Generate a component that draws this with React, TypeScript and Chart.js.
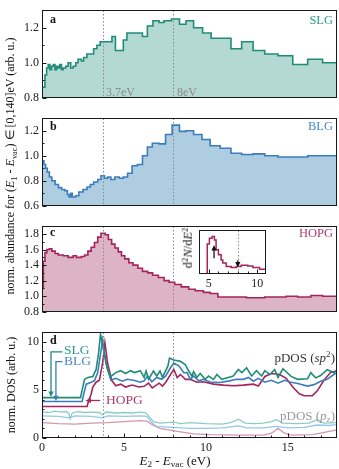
import React, { useEffect, useRef } from 'react';
import { Chart, registerables } from 'chart.js';
Chart.register(...registerables);

const FONT = '"Liberation Serif", "Times New Roman", serif';
const W = 339;
const H = 469;

// ---------- panel a : SLG histogram ----------
const slgEdges = [0, 0.18, 0.28, 0.38, 0.48, 0.58, 0.69, 0.79, 0.89, 0.99, 1.09, 1.19, 1.29, 1.45, 1.59, 1.75, 1.9, 2.06, 2.2, 2.4, 2.54, 2.74, 2.94, 3.15, 3.35, 3.55, 3.81, 4.07, 4.27, 4.48, 4.72, 4.96, 5.18, 6.13, 6.43, 6.77, 7.14, 7.44, 7.9, 8.39, 8.79, 9.25, 9.8, 10.32, 11.53, 12.18, 12.88, 13.59, 14.4, 15.3, 16.21, 17.12, 18];
const slgValues = [0.86, 0.93, 0.97, 0.99, 0.96, 0.98, 0.99, 0.96, 0.98, 0.97, 0.99, 0.96, 0.97, 0.98, 1.0, 0.97, 0.98, 1.0, 1.02, 1.01, 1.03, 1.05, 1.05, 1.08, 1.1, 1.12, 1.12, 1.12, 1.15, 1.07, 1.07, 1.13, 1.17, 1.15, 1.21, 1.24, 1.23, 1.24, 1.25, 1.22, 1.24, 1.2, 1.17, 1.14, 1.08, 1.12, 1.07, 1.05, 1.04, 0.99, 1.02, 1.0];
const aTicks = [0.8, 1.0, 1.2];
const aMinor = [0.9, 1.1];

// ---------- panel b : BLG histogram ----------
const blgEdges = [0, 0.12, 0.22, 0.32, 0.45, 0.6, 0.8, 1.0, 1.2, 1.4, 1.55, 1.65, 1.75, 1.85, 2.05, 2.25, 2.5, 2.75, 2.95, 3.15, 3.4, 3.6, 3.81, 4.0, 4.2, 4.45, 4.72, 4.96, 5.22, 5.5, 5.82, 6.13, 6.43, 6.73, 7.14, 7.54, 7.94, 8.39, 8.79, 9.25, 9.76, 10.26, 10.87, 11.53, 12.18, 12.88, 13.59, 14.4, 15.3, 16.21, 17.12, 18];
const blgValues = [0.96, 0.93, 0.9, 0.87, 0.83, 0.8, 0.77, 0.745, 0.73, 0.72, 0.69, 0.67, 0.7, 0.67, 0.68, 0.71, 0.73, 0.75, 0.77, 0.79, 0.81, 0.84, 0.82, 0.83, 0.81, 0.83, 0.82, 0.83, 0.86, 0.92, 0.93, 1.0, 1.07, 1.1, 1.095, 1.17, 1.245, 1.195, 1.2, 1.17, 1.13, 1.08, 1.06, 1.02, 1.01, 1.015, 1.0, 0.99, 0.99, 1.0, 1.0];
const bTicks = [0.6, 0.8, 1.0, 1.2];
const bMinor = [0.7, 0.9, 1.1];

// ---------- panel c : HOPG histogram ----------
const hopgEdges = [0, 0.08, 0.18, 0.3, 0.45, 0.6, 0.8, 1.0, 1.3, 1.6, 1.9, 2.1, 2.4, 2.6, 2.8, 3.0, 3.2, 3.4, 3.6, 3.85, 4.05, 4.25, 4.45, 4.65, 4.85, 5.05, 5.3, 5.55, 5.85, 6.13, 6.45, 6.75, 7.1, 7.45, 7.75, 8.1, 8.5, 8.95, 9.35, 9.85, 10.26, 10.73, 12.48, 13.59, 14.9, 15.6, 16.41, 17.12, 18];
const hopgValues = [1.1, 1.45, 1.56, 1.6, 1.61, 1.58, 1.55, 1.53, 1.52, 1.5, 1.52, 1.5, 1.51, 1.53, 1.58, 1.63, 1.69, 1.76, 1.81, 1.79, 1.73, 1.67, 1.62, 1.57, 1.52, 1.48, 1.43, 1.4, 1.36, 1.32, 1.3, 1.27, 1.24, 1.2, 1.18, 1.15, 1.12, 1.09, 1.07, 1.05, 1.035, 0.99, 0.98, 0.99, 1.0, 0.99, 1.01, 1.0];
const cTicks = [0.8, 1.0, 1.2, 1.4, 1.6, 1.8];
const cMinor = [0.9, 1.1, 1.3, 1.5, 1.7];

// ---------- inset : d2N/dE2 ----------
const insetEdges = [4, 4.85, 5.07, 5.35, 5.59, 5.76, 6.0, 6.28, 6.45, 6.8, 7.32, 7.83, 8.35, 9.03, 9.55, 10.24, 10.9];
const insetValues = [0, 0.68, 0.81, 0.85, 0.77, 0.55, 0.44, 0.32, 0.25, 0.17, 0.15, 0.17, 0.2, 0.18, 0.15, 0.11];
const insetTicks = [5, 10];
const insetMinor = [6, 7, 8, 9];

// ---------- panel d : DOS ----------
const slgSp2X = [0, 2.35, 2.45, 2.6, 2.8, 3.1, 3.3, 3.45, 3.57, 3.75, 4.0, 4.2, 4.5, 4.8, 5.1, 5.4, 5.65, 6.0, 6.23, 6.35, 6.5, 6.8, 7.0, 7.2, 7.35, 7.68, 7.78, 8.04, 8.45, 8.75, 8.95, 9.15, 9.25, 9.45, 9.65, 9.96, 10.16, 10.47, 10.67, 10.97, 11.37, 11.67, 11.98, 12.2, 12.48, 12.79, 13.09, 13.4, 13.6, 13.9, 14.2, 14.4, 14.7, 15.2, 15.6, 16.2, 16.4, 16.7, 17.0, 17.4, 17.8, 18];
const slgSp2Y = [4.2, 4.2, 5.0, 6.1, 6.3, 6.4, 7.1, 8.8, 10.8, 9.2, 7.1, 6.4, 6.8, 7.0, 6.7, 7.0, 6.8, 7.0, 6.3, 6.96, 6.1, 6.96, 6.45, 6.96, 6.3, 7.47, 8.3, 8.1, 7.97, 7.6, 6.96, 6.45, 6.9, 6.3, 6.7, 6.1, 6.45, 6.1, 6.6, 6.1, 6.3, 6.45, 7.13, 6.8, 7.3, 6.45, 7.0, 6.45, 7.0, 6.6, 7.1, 6.3, 7.2, 6.4, 6.1, 6.15, 6.8, 6.25, 6.5, 7.1, 6.8, 7.0];
const blgSp2X = [0, 2.45, 2.55, 2.7, 3.0, 3.2, 3.4, 3.55, 3.7, 3.9, 4.2, 4.5, 4.9, 5.2, 5.6, 6.0, 6.23, 6.45, 6.7, 7.0, 7.3, 7.55, 7.84, 8.04, 8.35, 8.65, 8.85, 9.05, 9.25, 9.56, 9.85, 10.26, 10.85, 11.45, 11.85, 12.28, 12.6, 12.9, 13.2, 13.6, 14.0, 14.4, 14.8, 15.2, 15.6, 16.2, 16.6, 17.0, 17.4, 17.8, 18];
const blgSp2Y = [3.8, 3.8, 4.6, 5.6, 5.8, 5.96, 6.8, 8.5, 10.2, 7.8, 6.0, 6.2, 5.9, 6.1, 6.0, 5.8, 5.94, 6.45, 5.85, 6.3, 6.1, 6.45, 7.3, 7.8, 7.5, 6.79, 6.8, 6.1, 6.45, 5.94, 6.1, 5.83, 5.77, 5.94, 6.1, 6.1, 6.3, 5.9, 6.2, 5.8, 6.0, 5.7, 6.0, 5.8, 5.67, 5.4, 5.55, 5.9, 6.1, 6.6, 6.8];
const hopgSp2X = [0, 2.75, 2.85, 3.0, 3.1, 3.3, 3.5, 3.7, 3.84, 4.0, 4.25, 4.5, 4.8, 5.1, 5.5, 5.9, 6.23, 6.5, 6.73, 7.15, 7.35, 7.55, 8.04, 8.25, 8.45, 8.75, 9.05, 9.45, 9.85, 10.47, 11.07, 11.68, 12.28, 12.9, 13.2, 13.6, 14.0, 14.5, 14.9, 15.3, 15.7, 16.0, 16.5, 16.8, 17.2, 17.6, 18];
const hopgSp2Y = [3.28, 3.28, 3.9, 4.58, 5.3, 5.8, 6.0, 7.8, 9.9, 7.8, 6.0, 5.43, 5.6, 5.3, 5.5, 5.3, 5.37, 5.7, 5.2, 5.7, 5.4, 5.8, 7.13, 6.28, 6.6, 6.1, 6.1, 5.8, 5.85, 5.6, 5.5, 5.43, 5.5, 5.6, 5.4, 6.4, 6.7, 6.6, 6.2, 5.3, 4.6, 4.4, 4.4, 4.9, 6.0, 6.8, 7.0];
const slgPzX = [0, 0.4, 0.8, 1.2, 1.5, 1.65, 1.72, 1.85, 2.2, 2.6, 3.0, 3.5, 3.7, 3.9, 4.5, 5.0, 5.5, 6.0, 6.3, 6.5, 6.8, 7.2, 8.0, 8.5, 9.0, 10.0, 11.0, 11.5, 12.0, 12.4, 13.0, 13.5, 14.0, 14.3, 14.7, 15.5, 16.3, 16.8, 17.2, 18];
const slgPzY = [2.75, 2.65, 2.8, 2.7, 2.75, 2.5, 2.0, 2.6, 2.75, 2.65, 2.7, 2.65, 2.4, 2.7, 2.6, 2.65, 2.6, 2.7, 2.65, 2.3, 1.7, 1.55, 1.65, 1.5, 1.6, 1.5, 1.45, 1.6, 1.95, 1.55, 1.5, 1.55, 1.7, 1.9, 1.55, 1.5, 1.55, 1.9, 1.55, 1.6];
const blgPzX = [0, 1.0, 1.7, 2.0, 3.0, 3.7, 4.0, 5.0, 6.0, 6.4, 6.7, 7.0, 8.0, 9.0, 10.0, 11.0, 12.0, 12.5, 13.5, 14.3, 15.0, 16.0, 16.8, 17.5, 18];
const blgPzY = [2.3, 2.25, 2.1, 2.3, 2.25, 2.1, 2.3, 2.25, 2.3, 2.25, 1.6, 1.2, 1.1, 1.0, 1.0, 1.05, 1.25, 1.05, 1.05, 1.2, 1.05, 1.1, 1.35, 1.3, 1.4];
const hopgPzX = [0, 1.0, 2.0, 3.0, 4.0, 5.0, 6.0, 6.4, 6.8, 7.2, 8.25, 9.25, 10.25, 12.0, 13.5, 14.0, 14.4, 14.8, 15.2, 16.5, 17.3, 18];
const hopgPzY = [1.6, 1.5, 1.45, 1.55, 1.6, 1.7, 1.8, 1.75, 1.3, 1.0, 0.68, 0.42, 0.35, 0.3, 0.3, 0.5, 1.0, 0.5, 0.3, 0.35, 0.6, 0.85];
const dTicks = [0, 5, 10];
const dMinor = [1, 2, 3, 4, 6, 7, 8, 9];
const xTicks = [0, 5, 10, 15];
const xMinor = [1, 2, 3, 4, 6, 7, 8, 9, 11, 12, 13, 14, 16, 17];
const markerLines = [3.7, 8];

const COL = {
  slg: '#1f8c78', slgFill: '#b4d9d2', slgText: '#2a9a86',
  blg: '#3a7cbd', blgFill: '#aecde1', blgText: '#4a89c6',
  hopg: '#a5245b', hopgFill: '#dcb4c5', hopgText: '#b03a6d',
  slgPz: '#8dcdc1', blgPz: '#92c9e8', hopgPz: '#d595b2',
};

type Pt = { x: number; y: number };
const stepPts = (edges: number[], vals: number[]): Pt[] =>
  edges.map((e, i) => ({ x: e, y: vals[Math.min(i, vals.length - 1)] }));
const linePts = (xs: number[], ys: number[]): Pt[] => xs.map((x, i) => ({ x, y: ys[i] }));

interface Arrow { pts: number[][]; color: string }
interface OverlayCfg {
  vlines?: number[];
  yMajor?: number[];
  yMinor?: number[];
  xMajor?: number[];
  xMinor?: number[];
  bg?: boolean;
  arrows?: Arrow[];
}

function overlay(cfg: OverlayCfg) {
  return {
    id: 'overlay',
    beforeDraw(chart: any) {
      if (!cfg.bg) return;
      const { ctx, chartArea: a } = chart;
      ctx.save();
      ctx.fillStyle = '#fff';
      ctx.fillRect(a.left, a.top, a.right - a.left, a.bottom - a.top);
      ctx.restore();
    },
    afterDatasetsDraw(chart: any) {
      const { ctx, chartArea: a, scales } = chart;
      const xs = scales.x;
      const ys = scales.y;
      const L = Math.round(a.left) + 0.5;
      const R = Math.round(a.right) - 0.5;
      const T = Math.round(a.top) + 0.5;
      const B = Math.round(a.bottom) - 0.5;
      ctx.save();
      if (cfg.vlines) {
        ctx.strokeStyle = '#8a8a8a';
        ctx.lineWidth = 1;
        ctx.setLineDash([1.5, 2]);
        for (const v of cfg.vlines) {
          const px = Math.round(xs.getPixelForValue(v)) + 0.5;
          ctx.beginPath();
          ctx.moveTo(px, T);
          ctx.lineTo(px, B);
          ctx.stroke();
        }
        ctx.setLineDash([]);
      }
      ctx.strokeStyle = '#1a1a1a';
      ctx.lineWidth = 1;
      const yTick = (vals: number[] | undefined, len: number) => {
        for (const v of vals || []) {
          const py = Math.round(ys.getPixelForValue(v)) + 0.5;
          ctx.beginPath();
          ctx.moveTo(L, py);
          ctx.lineTo(L + len, py);
          ctx.stroke();
        }
      };
      const xTick = (vals: number[] | undefined, len: number) => {
        for (const v of vals || []) {
          const px = Math.round(xs.getPixelForValue(v)) + 0.5;
          ctx.beginPath();
          ctx.moveTo(px, B);
          ctx.lineTo(px, B - len);
          ctx.stroke();
        }
      };
      yTick(cfg.yMajor, 4);
      yTick(cfg.yMinor, 2);
      xTick(cfg.xMajor, 4);
      xTick(cfg.xMinor, 2);
      ctx.strokeRect(L, T, R - L, B - T);
      for (const ar of cfg.arrows || []) {
        const p = ar.pts.map(([x, y]) => [xs.getPixelForValue(x), ys.getPixelForValue(y)]);
        ctx.strokeStyle = ar.color;
        ctx.fillStyle = ar.color;
        ctx.lineWidth = 1.3;
        const [x2, y2] = p[p.length - 1];
        const [x1, y1] = p[p.length - 2];
        const ang = Math.atan2(y2 - y1, x2 - x1);
        const hl = 5.5;
        const hw = 2.6;
        const c = Math.cos(ang);
        const s = Math.sin(ang);
        ctx.beginPath();
        ctx.moveTo(p[0][0], p[0][1]);
        for (let i = 1; i < p.length - 1; i++) ctx.lineTo(p[i][0], p[i][1]);
        ctx.lineTo(x2 - hl * 0.8 * c, y2 - hl * 0.8 * s);
        ctx.stroke();
        ctx.beginPath();
        ctx.moveTo(x2, y2);
        ctx.lineTo(x2 - hl * c + hw * s, y2 - hl * s - hw * c);
        ctx.lineTo(x2 - hl * c - hw * s, y2 - hl * s + hw * c);
        ctx.closePath();
        ctx.fill();
      }
      ctx.restore();
    },
  };
}

const tickFont = { family: FONT, size: 12 };

function yScale(min: number, max: number, ticks: number[], fmt: (v: number) => string, display = true) {
  return {
    type: 'linear',
    min,
    max,
    display,
    afterFit: (s: any) => { s.width = 42; },
    afterBuildTicks: (s: any) => { s.ticks = ticks.map((v) => ({ value: v })); },
    grid: { display: false, drawTicks: false },
    border: { display: false },
    ticks: { padding: 3, color: '#222', font: tickFont, callback: (v: any) => fmt(Number(v)) },
  };
}

const f1 = (v: number) => v.toFixed(1);
const f0 = (v: number) => String(Math.round(v));

const baseOpts = (padTop: number, padBottom: number, padLeft = 0, padRight = 2) => ({
  responsive: false,
  animation: false,
  events: [],
  layout: { padding: { top: padTop, bottom: padBottom, left: padLeft, right: padRight } },
  plugins: { legend: { display: false }, tooltip: { enabled: false } },
});

function histConfig(edges: number[], vals: number[], line: string, fill: string, yMin: number, yMax: number,
  major: number[], minor: number[], padTop: number, padBottom: number): any {
  return {
    type: 'line',
    data: {
      datasets: [{
        data: stepPts(edges, vals),
        stepped: true,
        borderColor: line,
        backgroundColor: fill,
        fill: 'start',
        borderWidth: 1.6,
        pointRadius: 0,
      }],
    },
    options: {
      ...baseOpts(padTop, padBottom),
      scales: {
        x: { type: 'linear', min: 0, max: 18, display: false },
        y: yScale(yMin, yMax, major, f1),
      },
    },
    plugins: [overlay({ vlines: markerLines, yMajor: major, yMinor: minor })],
  };
}

const makeA = () => histConfig(slgEdges, slgValues, COL.slg, COL.slgFill, 0.8, 1.3, aTicks, aMinor, 9, 8);
const makeB = () => histConfig(blgEdges, blgValues, COL.blg, COL.blgFill, 0.6, 1.3, bTicks, bMinor, 9, 7);
const makeC = () => histConfig(hopgEdges, hopgValues, COL.hopg, COL.hopgFill, 0.8, 1.9, cTicks, cMinor, 6, 7);

const makeInset = (): any => ({
  type: 'line',
  data: {
    datasets: [{
      data: stepPts(insetEdges, insetValues),
      stepped: true,
      borderColor: COL.hopg,
      borderWidth: 1.5,
      pointRadius: 0,
      fill: false,
    }],
  },
  options: {
    ...baseOpts(5, 3, 14, 4),
    scales: {
      x: {
        type: 'linear', min: 4, max: 10.9,
        afterFit: (s: any) => { s.height = 14; },
        afterBuildTicks: (s: any) => { s.ticks = insetTicks.map((v) => ({ value: v })); },
        grid: { display: false, drawTicks: false },
        border: { display: false },
        ticks: { padding: 3, color: '#222', font: tickFont, maxRotation: 0 },
      },
      y: { type: 'linear', min: 0, max: 1, display: false },
    },
  },
  plugins: [overlay({
    bg: true,
    vlines: [8],
    xMajor: insetTicks,
    xMinor: insetMinor,
    arrows: [
      { pts: [[5.55, 0.36], [5.55, 0.66]], color: '#111' },
      { pts: [[8.0, 0.31], [8.0, 0.15]], color: '#111' },
    ],
  })],
});

const lineDs = (xs: number[], ys: number[], color: string, w: number) => ({
  data: linePts(xs, ys),
  borderColor: color,
  borderWidth: w,
  pointRadius: 0,
  fill: false,
  tension: 0,
});

const makeD = (): any => ({
  type: 'line',
  data: {
    datasets: [
      lineDs(slgSp2X, slgSp2Y, COL.slg, 1.6),
      lineDs(blgSp2X, blgSp2Y, COL.blg, 1.6),
      lineDs(hopgSp2X, hopgSp2Y, COL.hopg, 1.6),
      lineDs(slgPzX, slgPzY, COL.slgPz, 1.3),
      lineDs(blgPzX, blgPzY, COL.blgPz, 1.3),
      lineDs(hopgPzX, hopgPzY, COL.hopgPz, 1.3),
    ],
  },
  options: {
    ...baseOpts(8, 11),
    scales: {
      x: {
        type: 'linear', min: 0, max: 18,
        afterFit: (s: any) => { s.height = 20; },
        afterBuildTicks: (s: any) => { s.ticks = xTicks.map((v) => ({ value: v })); },
        grid: { display: false, drawTicks: false },
        border: { display: false },
        ticks: { padding: 3, color: '#222', font: tickFont, maxRotation: 0 },
      },
      y: yScale(0, 11, dTicks, f0),
    },
  },
  plugins: [overlay({
    vlines: markerLines,
    yMajor: dTicks,
    yMinor: dMinor,
    xMajor: xTicks,
    xMinor: xMinor,
    arrows: [
      { pts: [[1.25, 8.95], [0.55, 8.95], [0.55, 4.25]], color: COL.slg },
      { pts: [[1.25, 7.95], [0.85, 7.95], [0.85, 3.82]], color: COL.blg },
      { pts: [[3.55, 3.9], [2.65, 3.9]], color: COL.hopg },
    ],
  })],
});

function ChartBox({ left, top, width, height, make }: { left: number; top: number; width: number; height: number; make: () => any }) {
  const ref = useRef<HTMLCanvasElement>(null);
  useEffect(() => {
    const chart = new Chart(ref.current as HTMLCanvasElement, make());
    return () => chart.destroy();
  }, [make]);
  return (
    <canvas
      ref={ref}
      width={width}
      height={height}
      style={{ position: 'absolute', left, top, width, height, display: 'block' }}
    />
  );
}

type TxtProps = {
  x: number; y: number; align?: 'left' | 'right' | 'center'; color?: string; size?: number;
  bold?: boolean; children: React.ReactNode;
};
function Txt({ x, y, align = 'left', color = '#111', size = 12, bold = false, children }: TxtProps) {
  const pos: any = align === 'left' ? { left: x, transform: 'translateY(-50%)' }
    : align === 'right' ? { right: W - x, transform: 'translateY(-50%)' }
      : { left: x, transform: 'translate(-50%,-50%)' };
  return (
    <div style={{
      position: 'absolute', top: y, ...pos, color, fontSize: size, fontWeight: bold ? 700 : 400,
      whiteSpace: 'nowrap', lineHeight: 1, fontFamily: FONT,
    }}>{children}</div>
  );
}

function Rot({ x, y, size = 12, color = '#111', children }: { x: number; y: number; size?: number; color?: string; children: React.ReactNode }) {
  return (
    <div style={{
      position: 'absolute', left: x, top: y, transform: 'translate(-50%,-50%) rotate(-90deg)',
      whiteSpace: 'nowrap', fontSize: size, lineHeight: 1, color, fontFamily: FONT,
    }}>{children}</div>
  );
}

const Sub = ({ children }: { children: React.ReactNode }) => (
  <span style={{ fontSize: '0.7em', verticalAlign: '-0.3em', lineHeight: 0 }}>{children}</span>
);
const Sup = ({ children }: { children: React.ReactNode }) => (
  <span style={{ fontSize: '0.7em', verticalAlign: '0.45em', lineHeight: 0 }}>{children}</span>
);

export default function App() {
  return (
    <div style={{ position: 'fixed', left: 0, top: 0, width: W, height: H, background: '#fff', overflow: 'hidden', fontFamily: FONT }}>
      <ChartBox left={0} top={0} width={W} height={108} make={makeA} />
      <ChartBox left={0} top={108} width={W} height={108} make={makeB} />
      <ChartBox left={0} top={216} width={W} height={106} make={makeC} />
      <ChartBox left={185} top={225} width={85} height={66} make={makeInset} />
      <ChartBox left={0} top={322} width={W} height={147} make={makeD} />

      <Rot x={10} y={166} size={12}>
        norm. abundance for (<i>E</i><Sub>1</Sub> - <i>E</i><Sub>vac</Sub>) ∈ [0,140]eV (arb. u.)
      </Rot>
      <Rot x={11} y={385} size={12}>norm. DOS (arb. u.)</Rot>
      <Rot x={188} y={248} size={12.5}>d<Sup>2</Sup><i>N</i>/d<i>E</i><Sup>2</Sup></Rot>
      <Txt x={175} y={460} align="center" size={13}>
        <i>E</i><Sub>2</Sub> - <i>E</i><Sub>vac</Sub> (eV)
      </Txt>

      <Txt x={50} y={19} bold>a</Txt>
      <Txt x={50} y={126} bold>b</Txt>
      <Txt x={50} y={232} bold>c</Txt>
      <Txt x={50} y={340} bold>d</Txt>

      <Txt x={333} y={20} align="right" color={COL.slgText} size={12.5}>SLG</Txt>
      <Txt x={333} y={126} align="right" color={COL.blgText} size={12.5}>BLG</Txt>
      <Txt x={333} y={233} align="right" color={COL.hopgText} size={12.5}>HOPG</Txt>

      <Txt x={106} y={92} color="#8c8c8c" size={12}>3.7eV</Txt>
      <Txt x={177} y={92} color="#8c8c8c" size={12}>8eV</Txt>

      <Txt x={64} y={350} color={COL.slgText} size={13.5}>SLG</Txt>
      <Txt x={64} y={361} color={COL.blgText} size={13.5}>BLG</Txt>
      <Txt x={106} y={400} color={COL.hopgText} size={13.5}>HOPG</Txt>
      <Txt x={335} y={357} align="right" color="#333" size={13}>pDOS (<i>sp</i><Sup>2</Sup>)</Txt>
      <Txt x={335} y={415} align="right" color="#9a9a9a" size={13}>pDOS (<i>p</i><Sub>z</Sub>)</Txt>
    </div>
  );
}
